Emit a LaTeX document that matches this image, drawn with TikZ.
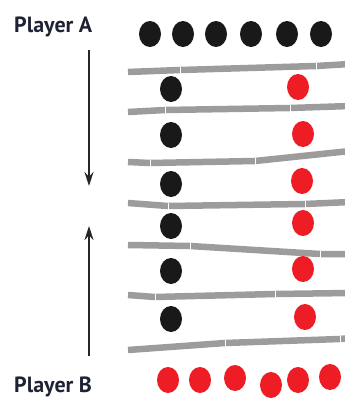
\documentclass[tikz,border=0pt]{standalone}
\usepackage{fontspec}
\setmainfont{PT Sans}
\usetikzlibrary{arrows.meta}
\definecolor{stick}{HTML}{9C9C9C}
\definecolor{bead}{HTML}{EE1C24}
\definecolor{label}{HTML}{1F2233}
\tikzset{
  player/.style={font=\bfseries\fontsize{22}{22}\selectfont,text=label,inner sep=0pt},
  blackbead/.style={fill=black!90,draw=none},
  redbead/.style={fill=bead,draw=none},
  rod/.style={draw=stick,line width=6.5pt},
  joint/.style={draw=white,line width=0.8pt},
  turn/.style={-{Stealth[length=14pt,width=9pt]},line width=1.3pt,draw=black!85}
}
\begin{document}
\begin{tikzpicture}[x=1pt,y=-1pt]
  \useasboundingbox (0,0) rectangle (345,399);
  \node[player,anchor=base west] (pa) at (14,32) {Player A};
  \node[player,anchor=base west] (pb) at (14,392) {Player B};
  % arrows
  \coordinate (a1) at (89,50);  \coordinate (a2) at (89,186);
  \coordinate (b1) at (89,356); \coordinate (b2) at (89,226);
  \draw[turn] (a1) -- (a2);
  \draw[turn] (b1) -- (b2);
  % rods
  \draw[rod] (128,72) -- (180,70) -- (316,66) -- (350,64);
  \draw[rod] (128,112) -- (165,110) -- (290,108) -- (350,106);
  \draw[rod] (128,162) -- (150,163) -- (255,161) -- (350,151);
  \draw[rod] (128,203) -- (168,206) -- (305,204) -- (350,202);
  \draw[rod] (128,245) -- (190,246) -- (320,254) -- (350,254);
  \draw[rod] (128,295) -- (155,297) -- (275,294) -- (350,293);
  \draw[rod] (128,350) -- (225,343) -- (340,339) -- (350,338);
  % joints
  \foreach \x/\y in {180/70,316/66,165/110,290/108,150/163,255/161,168/206,305/204,
                     190/246,320/254,155/297,275/294,225/343,340/339}
    \draw[joint] (\x,\y-3.5) -- (\x,\y+3.5);
  % top and bottom rows
  \foreach \x [count=\i] in {150,183,216,251,287,321}
    \fill[blackbead] (\x,34) ellipse (11 and 13);
  \foreach \x/\y in {168/380,200/380,235/378,271/385,298/380,330/377}
    \fill[redbead] (\x,\y) ellipse (11 and 13);
  % beads between rods
  \foreach \y [count=\i] in {89,135,184,226,271,319}
    \fill[blackbead] (171,\y) ellipse (11 and 13);
  \foreach \x/\y in {298/87,303/134,302/181,303/223,303/269,305/317}
    \fill[redbead] (\x,\y) ellipse (11 and 13);
\end{tikzpicture}
\end{document}
